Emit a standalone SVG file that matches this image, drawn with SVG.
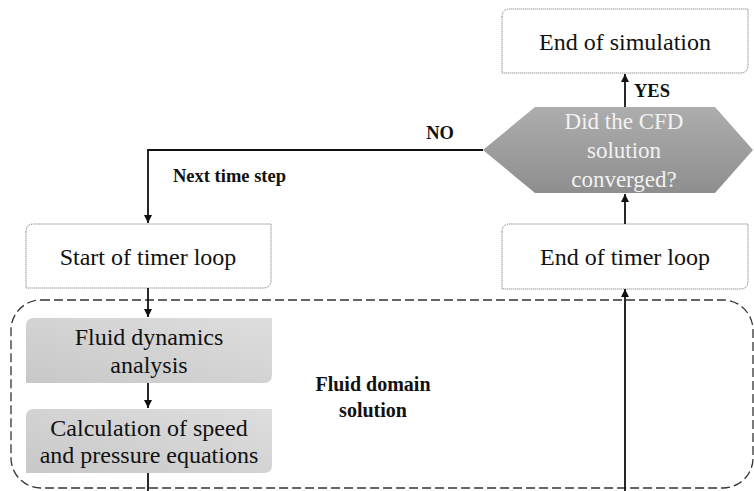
<svg xmlns="http://www.w3.org/2000/svg" width="754" height="491" viewBox="0 0 754 491">
  <defs>
    <linearGradient id="hexGrad" x1="0" y1="0" x2="0" y2="1">
      <stop offset="0" stop-color="#adadad"/>
      <stop offset="1" stop-color="#8e8e8e"/>
    </linearGradient>
    <linearGradient id="boxGrad" x1="0" y1="1" x2="1" y2="0">
      <stop offset="0" stop-color="#c8c8c8"/>
      <stop offset="1" stop-color="#dedede"/>
    </linearGradient>
    <marker id="arrow" markerUnits="userSpaceOnUse" markerWidth="9" markerHeight="9" refX="8" refY="4" orient="auto">
      <path d="M0,0 L8,4 L0,8 Z" fill="#111"/>
    </marker>
  </defs>
  <style>
    .wbox { fill: #ffffff; stroke: #6a6a6a; stroke-width: 1; stroke-dasharray: 1 1; }
    .gbox { fill: url(#boxGrad); stroke: none; }
    .txt { font-family: "Liberation Serif", "Times New Roman", serif; font-size: 24px; fill: #111; text-anchor: middle; }
    .htxt { font-family: "Liberation Serif", "Times New Roman", serif; font-size: 23px; fill: #f2f2f2; text-anchor: middle; }
    .lbl { font-family: "Liberation Serif", "Times New Roman", serif; font-size: 18.5px; font-weight: bold; fill: #111; }
    .big { font-family: "Liberation Serif", "Times New Roman", serif; font-size: 20px; font-weight: bold; fill: #111; text-anchor: middle; }
    .conn { fill: none; stroke: #111; stroke-width: 1.8; }
    .dash { fill: none; stroke: #333; stroke-width: 1.3; stroke-dasharray: 9 4; }
  </style>

  <g id="fluid-domain">
    <rect class="dash" x="11" y="300" width="742" height="188" rx="30" ry="30"/>
    <text class="big" x="373" y="391">Fluid domain</text>
    <text class="big" x="373" y="417">solution</text>
  </g>

  <g id="end-simulation">
    <path class="wbox" d="M502,17 Q502,9 510,9 H748 V65 Q748,73 740,73 H502 Z"/>
    <text class="txt" x="625" y="50">End of simulation</text>
  </g>

  <g id="decision">
    <path d="M483,150 L535,107 L715,107 L753,150 L715,193 L535,193 Z" fill="url(#hexGrad)"/>
    <text class="htxt" x="624" y="129">Did the CFD</text>
    <text class="htxt" x="624" y="158">solution</text>
    <text class="htxt" x="624" y="187">converged?</text>
  </g>

  <g id="start-timer">
    <path class="wbox" d="M26,232 Q26,224 34,224 H271 V280 Q271,288 263,288 H26 Z"/>
    <text class="txt" x="148" y="265">Start of timer loop</text>
  </g>

  <g id="end-timer">
    <path class="wbox" d="M502,232 Q502,224 510,224 H748 V281 Q748,289 740,289 H502 Z"/>
    <text class="txt" x="625" y="265">End of timer loop</text>
  </g>

  <g id="fluid-dynamics">
    <path class="gbox" d="M26,326 Q26,318 34,318 H272 V375 Q272,383 264,383 H26 Z"/>
    <text class="txt" x="149" y="345">Fluid dynamics</text>
    <text class="txt" x="149" y="373">analysis</text>
  </g>

  <g id="calculation">
    <path class="gbox" d="M26,417 Q26,409 34,409 H272 V465 Q272,473 264,473 H26 Z"/>
    <text class="txt" x="149" y="436">Calculation of speed</text>
    <text class="txt" x="149" y="463">and pressure equations</text>
  </g>

  <g id="connectors">
    <line class="conn" x1="625" y1="107" x2="625" y2="74" marker-end="url(#arrow)"/>
    <path class="conn" d="M483,150 H148 V223" marker-end="url(#arrow)"/>
    <line class="conn" x1="148" y1="288" x2="148" y2="317" marker-end="url(#arrow)"/>
    <line class="conn" x1="148" y1="383" x2="148" y2="408" marker-end="url(#arrow)"/>
    <line class="conn" x1="148" y1="473" x2="148" y2="491"/>
    <line class="conn" x1="625" y1="491" x2="625" y2="289" marker-end="url(#arrow)"/>
    <line class="conn" x1="625" y1="224" x2="625" y2="194" marker-end="url(#arrow)"/>
    <text class="lbl" x="634" y="97">YES</text>
    <text class="lbl" x="440" y="139" text-anchor="middle">NO</text>
    <text class="lbl" x="173" y="182">Next time step</text>
  </g>
</svg>
